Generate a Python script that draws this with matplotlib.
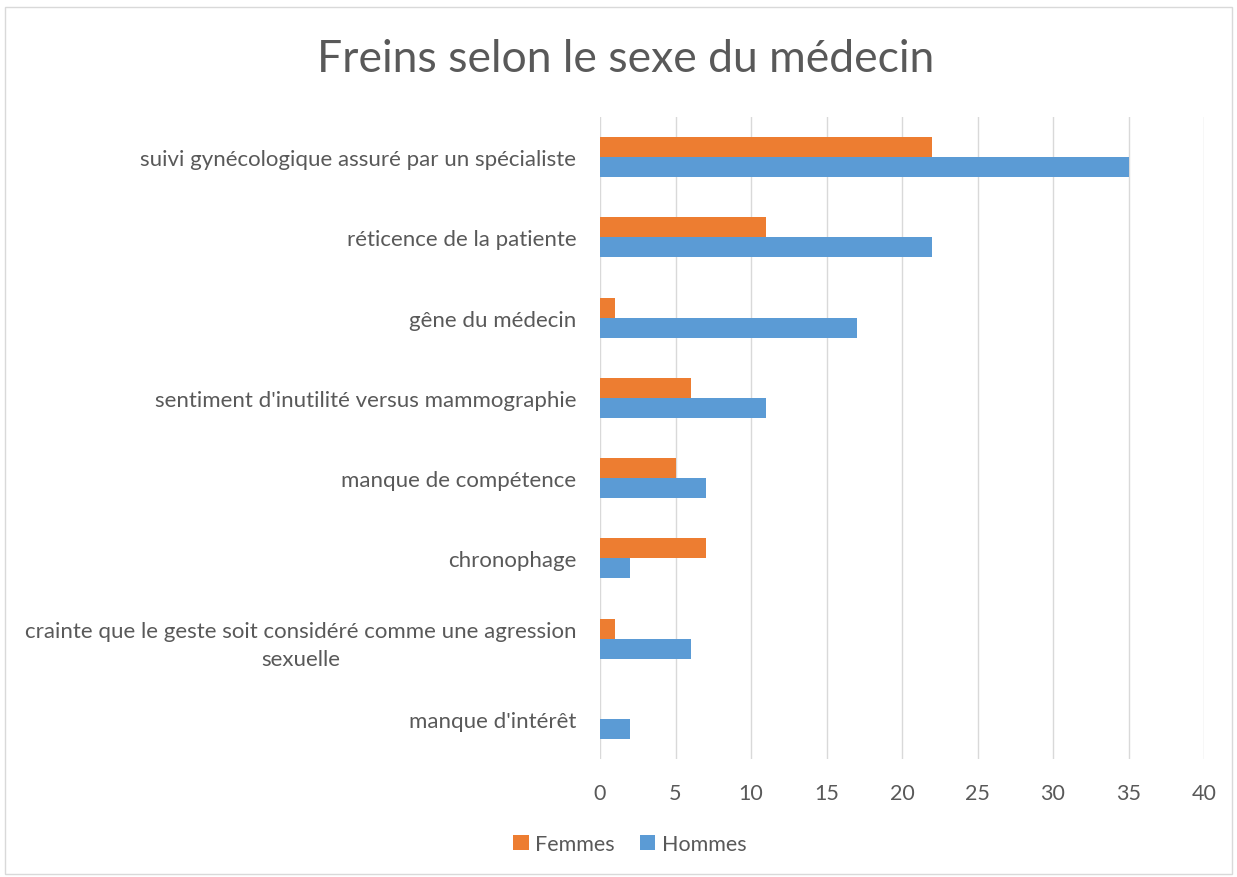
import matplotlib.pyplot as plt
from matplotlib.patches import Rectangle

# data
categories = [
    "suivi gynécologique assuré par un spécialiste",
    "réticence de la patiente",
    "gêne du médecin",
    "sentiment d'inutilité versus mammographie",
    "manque de compétence",
    "chronophage",
    "crainte que le geste soit considéré comme une agression\nsexuelle",
    "manque d'intérêt",
]
femmes = [22, 11, 1, 6, 5, 7, 1, 0]
hommes = [35, 22, 17, 11, 7, 2, 6, 2]
xticks = [0, 5, 10, 15, 20, 25, 30, 35, 40]

text_col = "#595959"
plt.rcParams['font.family'] = ['Lato', 'DejaVu Sans']

fig = plt.figure(figsize=(12.37, 8.78), dpi=100)
ax = fig.add_axes([600/1237, 1 - 760/878, 604/1237, 642/878])

# light border around the whole chart
fig.patches.append(Rectangle((5/1237, 0.003), 1 - 10/1237, 1 - 11/878,
                             transform=fig.transFigure, fill=False,
                             edgecolor="#D9D9D9", linewidth=1))

pos = list(range(len(categories)))
h = 0.25
ax.barh([p - h/2 for p in pos], femmes, height=h, color="#ED7D31", label="Femmes", zorder=3)
ax.barh([p + h/2 for p in pos], hommes, height=h, color="#5B9BD5", label="Hommes", zorder=3)

ax.set_ylim(len(categories) - 0.5, -0.5)
ax.set_xlim(0, 40)
ax.set_xticks(xticks)
ax.set_yticks(pos)
ax.set_yticklabels(categories, multialignment="center", linespacing=1.55)
ax.tick_params(axis="both", length=0, labelsize=15.5, colors=text_col)
ax.tick_params(axis="y", pad=17, labelsize=16)
ax.tick_params(axis="x", pad=17)
ax.xaxis.grid(True, color="#D9D9D9", linewidth=1, zorder=0)
for s in ax.spines.values():
    s.set_visible(False)

fig.text(626/1237, 1 - 60/878, "Freins selon le sexe du médecin", ha="center", va="center",
         fontsize=32, color=text_col)

fig.legend(loc="center", bbox_to_anchor=(630/1237, 1 - 845/878), ncol=2, frameon=False,
           fontsize=15.5, labelcolor=text_col, handlelength=0.7, handleheight=0.7,
           handletextpad=0.3, columnspacing=1.2)

fig.savefig("out.png", dpi=100, facecolor="white")
